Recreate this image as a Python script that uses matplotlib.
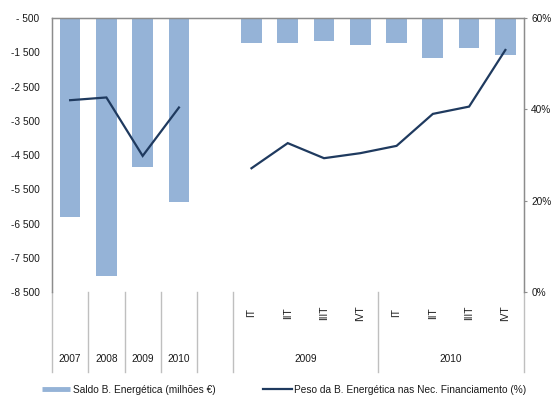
import numpy as np
import matplotlib
matplotlib.use("Agg")
import matplotlib.pyplot as plt
from matplotlib.lines import Line2D
import matplotlib.transforms as mtransforms

plt.rcParams['font.family'] = ['Liberation Sans', 'DejaVu Sans']

# ---- data ----
annual_years = ["2007", "2008", "2009", "2010"]
quarters = ["IT", "IIT", "IIIT", "IVT"]
quarter_years = ["2009", "2010"]
saldo = [-6310, -8030, -4860, -5870, np.nan,
         -1220, -1220, -1180, -1300,
         -1220, -1670, -1370, -1590]
peso = [42.0, 42.6, 29.8, 40.4, np.nan,
        27.1, 32.6, 29.3, 30.4,
        32.0, 39.0, 40.6, 53.0]
left_ticks = [-500, -1500, -2500, -3500, -4500, -5500, -6500, -7500, -8500]
left_tick_labels = ["- 500", "-1 500", "-2 500", "-3 500", "-4 500",
                    "-5 500", "-6 500", "-7 500", "-8 500"]
right_ticks = [0, 20, 40, 60]
right_tick_labels = ["0%", "20%", "40%", "60%"]
legend_labels = ["Saldo B. Energética (milhões €)",
                 "Peso da B. Energética nas Nec. Financiamento (%)"]

bar_color = "#95B3D7"
line_color = "#1F3A5F"
spine_color = "#8C8C8C"
sep_color = "#BFBFBF"
text_color = "#1A1A1A"
fs = 7.3

W, H = 559, 419
fig = plt.figure(figsize=(W / 100, H / 100), dpi=100)
L, R, T, B = 52, 523.5, 18, 292
ax = fig.add_axes([L / W, 1 - B / H, (R - L) / W, (B - T) / H])

n = len(saldo)
x = np.arange(n) + 0.5
base = -500
heights = [v - base for v in saldo]
ax.bar(x, heights, bottom=base, width=0.57, color=bar_color, zorder=2)
ax.set_xlim(0, n)
ax.set_ylim(-8500, -500)
ax.set_yticks(left_ticks)
ax.set_yticklabels(left_tick_labels, fontsize=fs, color=text_color)
ax.tick_params(axis='y', length=0, pad=9.0)
ax.set_xticks([])
for s in ['left', 'top', 'right']:
    ax.spines[s].set_color(spine_color)
    ax.spines[s].set_linewidth(1.0)
ax.spines['bottom'].set_visible(False)

ax2 = ax.twinx()
ax2.plot(x, peso, color=line_color, lw=1.6, zorder=3, solid_joinstyle='miter')
ax2.set_ylim(0, 60)
ax2.set_yticks(right_ticks)
ax2.set_yticklabels(right_tick_labels, fontsize=fs, color=text_color)
ax2.tick_params(axis='y', length=2.5, pad=3.0, color=spine_color)
for s in ['left', 'top', 'right']:
    ax2.spines[s].set_color(spine_color)
ax2.spines['bottom'].set_visible(False)

# multi-level category axis below the plot
trans = mtransforms.blended_transform_factory(ax.transData, ax.transAxes)
sep_bottom = -(372 - 292) / (B - T)
for xs in [0, 1, 2, 3, 4, 5, 9, 13]:
    ax.add_line(Line2D([xs, xs], [0, sep_bottom], transform=trans,
                       color=sep_color, lw=1.0, clip_on=False))

year_y = -(359 - 292) / (B - T)
q_y = -(313 - 292) / (B - T)
for i, yr in enumerate(annual_years):
    ax.text(i + 0.5, year_y, yr, transform=trans, ha='center', va='center',
            fontsize=fs, color=text_color)
for k, yr in enumerate(quarter_years):
    start = 5 + 4 * k
    ax.text(start + 2, year_y, yr, transform=trans, ha='center', va='center',
            fontsize=fs, color=text_color)
    for j, q in enumerate(quarters):
        ax.text(start + j + 0.5, q_y, q, transform=trans, ha='center',
                va='center', rotation=90, fontsize=fs, color=text_color)

# legend
handles = [Line2D([], [], color=bar_color, lw=3.5, solid_capstyle='butt'),
           Line2D([], [], color=line_color, lw=1.6)]
fig.legend(handles, legend_labels, loc='center left',
           bbox_to_anchor=(42 / W, 1 - 389.5 / H), ncol=2, frameon=False,
           fontsize=fs, handlelength=2.8, handletextpad=0.25,
           columnspacing=4.7, borderpad=0, borderaxespad=0,
           labelcolor=text_color)

fig.savefig("out.png", dpi=100)
